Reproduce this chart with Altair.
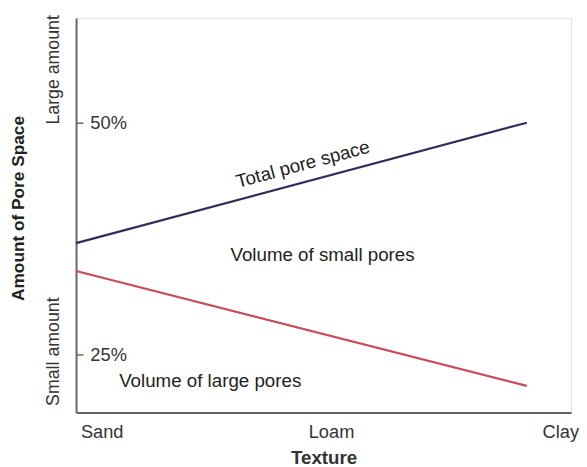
import altair as alt
import pandas as pd

# ---- data ----
texture_ticks = [0, 1, 2]
texture_labels = ["Sand", "Loam", "Clay"]
line_x = [-0.112, 1.854]
total_pore = [37.0, 50.0]
large_pores = [34.0, 21.6]
pct_ticks = [25, 50]

annot_text = ["Volume of small pores", "Volume of large pores"]
annot_x = [0.963, 0.473]
annot_y = [35.7, 22.1]

rot_text = ["Total pore space"]
rot_x = [0.877]
rot_y = [45.5]

side_text = ["Large amount", "Small amount"]
side_y = [55.7, 25.3]

FONT = "Liberation Sans"
W, H = 502, 400
x_dom = [-0.112, 2.047]
y_dom = [18.72, 61.28]

lines_df = pd.DataFrame({
    "x": line_x + line_x,
    "y": total_pore + large_pores,
    "series": ["Total pore space"] * 2 + ["Volume of large pores"] * 2,
})

label_expr = "datum.value == 0 ? 'Sand' : datum.value == 1 ? 'Loam' : 'Clay'"

xs = alt.Scale(domain=x_dom, nice=False, zero=False)
ys = alt.Scale(domain=y_dom, nice=False, zero=False)

lines = alt.Chart(lines_df).mark_line(strokeWidth=2.2).encode(
    x=alt.X("x:Q", scale=xs, axis=alt.Axis(
        values=texture_ticks, labelExpr=label_expr, ticks=False, grid=False,
        domainColor="#666666", domainWidth=2, labelFont=FONT, labelFontSize=18.5,
        labelColor="#333333", labelPadding=10, title="Texture", titleFont=FONT,
        titleFontSize=19, titleFontWeight="bold", titleColor="#333333",
        titlePadding=8, labelFlush=False)),
    y=alt.Y("y:Q", scale=ys, axis=alt.Axis(
        orient="right", offset=-W, values=pct_ticks, labelExpr="datum.value + '%'",
        grid=False, tickSize=7, tickColor="#666666", tickWidth=1.5,
        domainColor="#666666", domainWidth=2, labelFont=FONT, labelFontSize=18.5,
        labelColor="#333333", labelPadding=7, title=None, labelFlush=False)),
    color=alt.Color("series:N", legend=None, scale=alt.Scale(
        domain=["Total pore space", "Volume of large pores"],
        range=["#2e2d5c", "#c94a5a"])),
    detail="series:N",
)

annot = alt.Chart(pd.DataFrame({"t": annot_text, "x": annot_x, "y": annot_y})).mark_text(
    font=FONT, fontSize=19, color="#222222", align="center", baseline="middle"
).encode(x=alt.X("x:Q", scale=xs), y=alt.Y("y:Q", scale=ys), text="t:N")

rot = alt.Chart(pd.DataFrame({"t": rot_text, "x": rot_x, "y": rot_y})).mark_text(
    font=FONT, fontSize=19, color="#222222", align="center", baseline="middle", angle=345
).encode(x=alt.X("x:Q", scale=xs), y=alt.Y("y:Q", scale=ys), text="t:N")

side = alt.Chart(pd.DataFrame({"t": side_text, "y": side_y})).mark_text(
    font=FONT, fontSize=18, color="#333333", align="center", baseline="middle", angle=270
).encode(x=alt.value(-22), y=alt.Y("y:Q", scale=ys), text="t:N")

ytitle = alt.Chart(pd.DataFrame({"t": ["Amount of Pore Space"]})).mark_text(
    font=FONT, fontSize=17.5, fontWeight="bold", color="#222222",
    align="center", baseline="middle", angle=270
).encode(x=alt.value(-58), y=alt.value(193), text="t:N")

chart = alt.layer(lines, annot, rot, side, ytitle).properties(
    width=W, height=H,
    autosize=alt.AutoSizeParams(type="none"),
    padding={"left": 69, "top": 7, "right": 8, "bottom": 60},
).configure_view(stroke=None).configure(background="white")

chart.save("out.html", embed_options={"renderer": "svg", "actions": False})
